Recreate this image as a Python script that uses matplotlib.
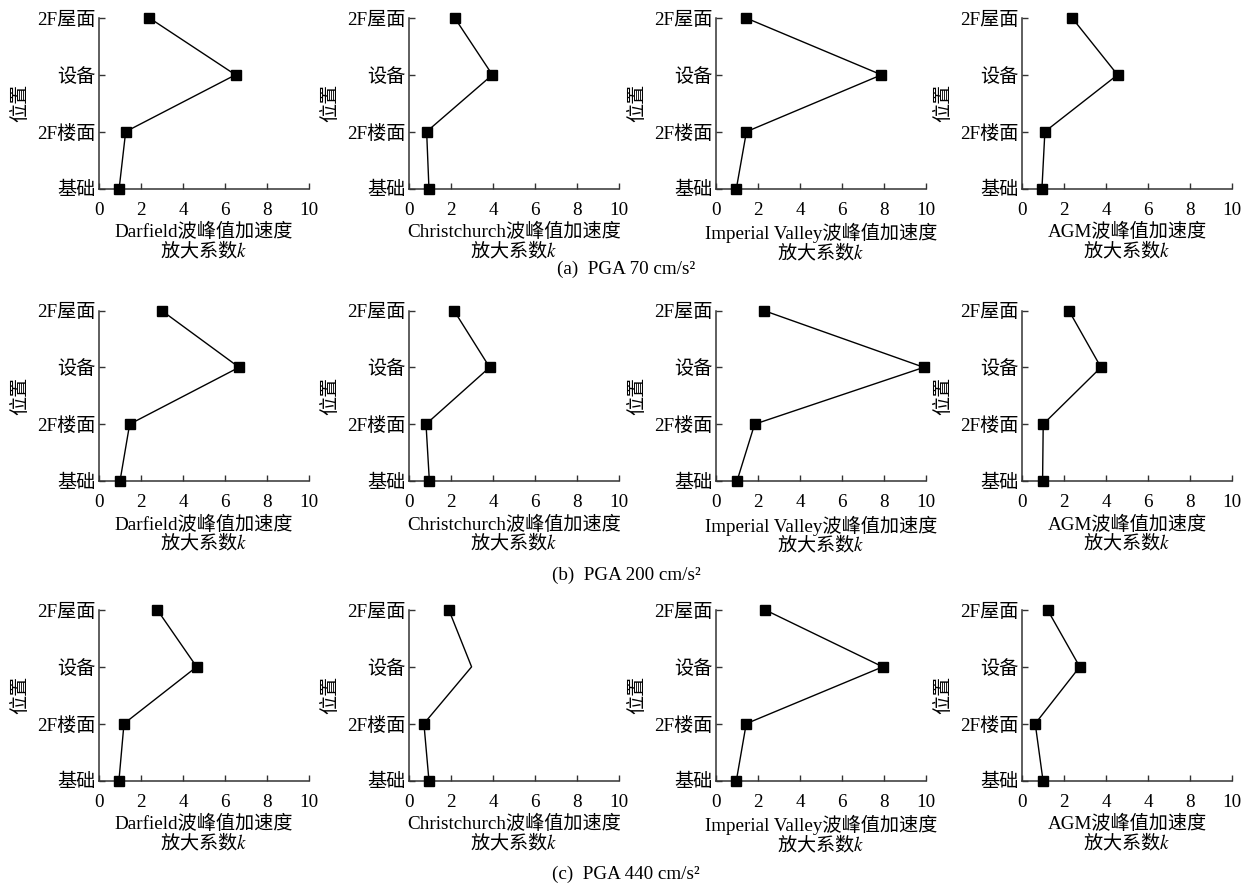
import matplotlib
matplotlib.use("Agg")
import matplotlib.pyplot as plt

plt.rcParams['font.family'] = ['Liberation Serif', 'Noto Sans CJK SC', 'DejaVu Sans']
plt.rcParams['mathtext.fontset'] = 'stix'

levels = ['基础', '2F楼面', '设备', '2F屋面']
waves = ['Darfield', 'Christchurch', 'Imperial Valley', 'AGM']
captions = ['(a)  PGA 70 cm/s²', '(b)  PGA 200 cm/s²', '(c)  PGA 440 cm/s²']

# amplification factor k at [基础, 2F楼面, 设备, 2F屋面]
darfield_70 = [0.96, 1.27, 6.5, 2.4]
christchurch_70 = [0.95, 0.84, 3.97, 2.18]
imperial_70 = [0.97, 1.45, 7.88, 1.43]
agm_70 = [0.95, 1.09, 4.55, 2.39]

darfield_200 = [1.0, 1.46, 6.67, 2.98]
christchurch_200 = [0.97, 0.81, 3.84, 2.14]
imperial_200 = [1.0, 1.84, 9.9, 2.27]
agm_200 = [0.98, 1.01, 3.76, 2.23]

darfield_440 = [0.95, 1.19, 4.65, 2.78]
christchurch_440 = [0.95, 0.71, 2.98, 1.9]
imperial_440 = [0.97, 1.44, 7.94, 2.35]
agm_440 = [1.0, 0.63, 2.75, 1.22]

x_ticks = [0, 2, 4, 6, 8, 10]
x_ticklabels = ['0', '2', '4', '6', '8', '10']
x_ticklabels_c_agm = ['0', '2', '4', '4', '8', '10']

rows = [
    [darfield_70, christchurch_70, imperial_70, agm_70],
    [darfield_200, christchurch_200, imperial_200, agm_200],
    [darfield_440, christchurch_440, imperial_440, agm_440],
]

W, H = 1252, 890
fig = plt.figure(figsize=(W / 100, H / 100), dpi=100)

lefts = [99, 409, 716, 1022]
tops = [18, 310.5, 610]
aw, ah = 210, 170.5
caption_y = [269, 575, 874]

fs = 13.8
for r, row in enumerate(rows):
    for c, vals in enumerate(row):
        ax = fig.add_axes([lefts[c] / W, 1 - (tops[r] + ah) / H, aw / W, ah / H])
        ypos = list(range(len(levels)))
        mk = [0, 1, 3] if (r == 2 and c == 1) else None
        ax.plot(vals, ypos, color='black', lw=1.0, marker='s', ms=6.5,
                markerfacecolor='black', markeredgecolor='black', markevery=mk,
                clip_on=False, zorder=3)
        ax.set_xlim(0, 10)
        ax.set_ylim(0, 3)
        ax.set_yticks(ypos)
        ax.set_yticklabels(levels, fontsize=fs)
        ax.set_xticks(x_ticks)
        labels = x_ticklabels_c_agm if (r == 2 and c == 3) else x_ticklabels
        ax.set_xticklabels(labels, fontsize=fs)
        ax.tick_params(direction='in', length=4, width=1.0, color='#333333')
        ax.tick_params(axis='x', pad=9.5)
        ax.tick_params(axis='y', pad=2.5)
        for s in ['top', 'right']:
            ax.spines[s].set_visible(False)
        for s in ['left', 'bottom']:
            ax.spines[s].set_linewidth(1.1)
            ax.spines[s].set_color('#333333')
        ax.set_ylabel('位置', fontsize=fs, labelpad=6)
        ax.set_xlabel(waves[c] + '波峰值加速度', fontsize=fs, labelpad=3)
        ax.annotate('放大系数$k$', xy=(0.5, 0.0), xycoords=ax.xaxis.label,
                    xytext=(0, 1.0), textcoords='offset points',
                    ha='center', va='top', fontsize=fs, family='Noto Sans CJK SC')
    fig.text(0.5, 1 - caption_y[r] / H, captions[r], ha='center', va='center', fontsize=fs)

fig.savefig('out.png', dpi=100, facecolor='white')
